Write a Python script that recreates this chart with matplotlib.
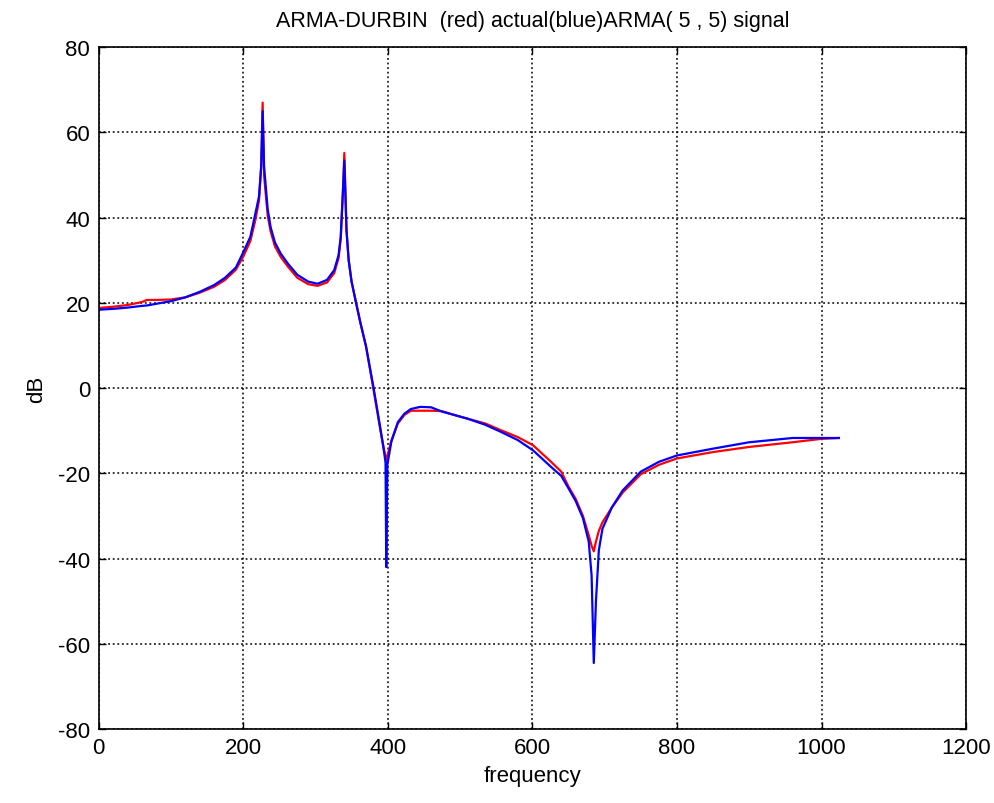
import matplotlib
matplotlib.use("Agg")
import matplotlib.pyplot as plt

plt.rcParams['font.family'] = ['Liberation Sans', 'DejaVu Sans']
plt.rcParams['axes.unicode_minus'] = False

# Frequency samples shared by both spectra
freq = [0, 20, 40, 60, 67, 80, 100, 120, 140, 160, 175, 190, 200, 210, 217, 222,
        225, 227, 229, 231, 234, 238, 244, 252, 262, 275, 290, 303, 316, 326, 332,
        335, 338, 340, 343, 346, 350, 355, 362, 370, 380, 390, 395, 397, 398, 399.5,
        401, 405, 414, 423, 432, 445, 460, 475, 490, 511, 535, 557, 580, 601, 626,
        640, 650, 660, 670, 678, 682, 685, 688, 692, 697, 710, 725, 750, 775, 800,
        850, 900, 960, 1000, 1024]

# ARMA-Durbin estimate (dB)
durbin_db = [18.8, 19.1, 19.5, 20.2, 20.7, 20.7, 20.8, 21.3, 22.4, 23.8, 25.4, 27.8,
             30.8, 34.5, 39.5, 44.0, 52.0, 67.0, 50.0, 46.0, 40.5, 36.8, 33.3, 30.8,
             28.5, 25.9, 24.4, 24.0, 24.8, 27.0, 30.5, 35.0, 46.0, 55.2, 37.0, 30.0,
             25.0, 21.0, 15.5, 9.8, 0.0, -10.0, -14.5, -16.0, -17.0, -16.0,
             -15.0, -12.3, -8.3, -6.3, -5.3, -5.3, -5.3, -5.4, -6.2, -7.2, -8.3, -9.9,
             -11.5, -13.4, -17.3, -19.6, -23.1, -26.0, -30.0, -34.5, -37.0, -38.3,
             -36.0, -33.5, -31.5, -28.0, -24.5, -20.2, -18.0, -16.5, -15.0, -13.8,
             -12.7, -11.9, -11.7]

# Actual spectrum (dB)
actual_db = [18.4, 18.6, 18.9, 19.3, 19.4, 19.8, 20.4, 21.3, 22.6, 24.2, 25.9, 28.3,
             31.8, 35.5, 41.0, 45.0, 52.0, 65.0, 52.0, 48.0, 42.0, 37.8, 34.2, 31.6,
             29.2, 26.6, 25.0, 24.5, 25.4, 27.7, 31.2, 35.5, 46.0, 53.4, 37.0, 30.0,
             25.0, 21.0, 15.5, 9.8, 0.5, -9.6, -15.0, -17.5, -42.0, -18.0,
             -16.5, -12.6, -8.0, -6.0, -4.9, -4.4, -4.5, -5.5, -6.2, -7.2, -8.6, -10.3,
             -12.2, -14.6, -18.5, -20.6, -23.5, -26.5, -30.5, -36.0, -44.0, -64.5,
             -50.0, -38.0, -33.0, -28.0, -24.0, -19.6, -17.3, -15.8, -14.2, -12.7,
             -11.7, -11.7, -11.7]

xticks = [0, 200, 400, 600, 800, 1000, 1200]
yticks = [-80, -60, -40, -20, 0, 20, 40, 60, 80]

fig = plt.figure(figsize=(9.95, 8.04), dpi=100)
ax = fig.add_axes([0.099, 0.092, 0.872, 0.848])

ax.plot(freq, durbin_db, color='#ff0000', lw=1.6)
ax.plot(freq, actual_db, color='#0000ff', lw=1.6)

ax.set_xlim(0, 1200)
ax.set_ylim(-80, 80)
ax.set_xticks(xticks)
ax.set_yticks(yticks)
ax.tick_params(direction='in', length=5, width=1, top=True, right=True,
               labelsize=16, pad=6, colors='black')
ax.grid(True, color='black', linestyle=(0, (1.2, 1.8)), linewidth=1.1)
for s in ax.spines.values():
    s.set_linewidth(1.2)

ax.set_title('ARMA-DURBIN  (red) actual(blue)ARMA( 5 , 5) signal', fontsize=15.5, pad=15)
ax.set_xlabel('frequency', fontsize=16, labelpad=5)
ax.set_ylabel('dB', fontsize=16, labelpad=8)

fig.savefig('out.png', dpi=100, facecolor='white')
